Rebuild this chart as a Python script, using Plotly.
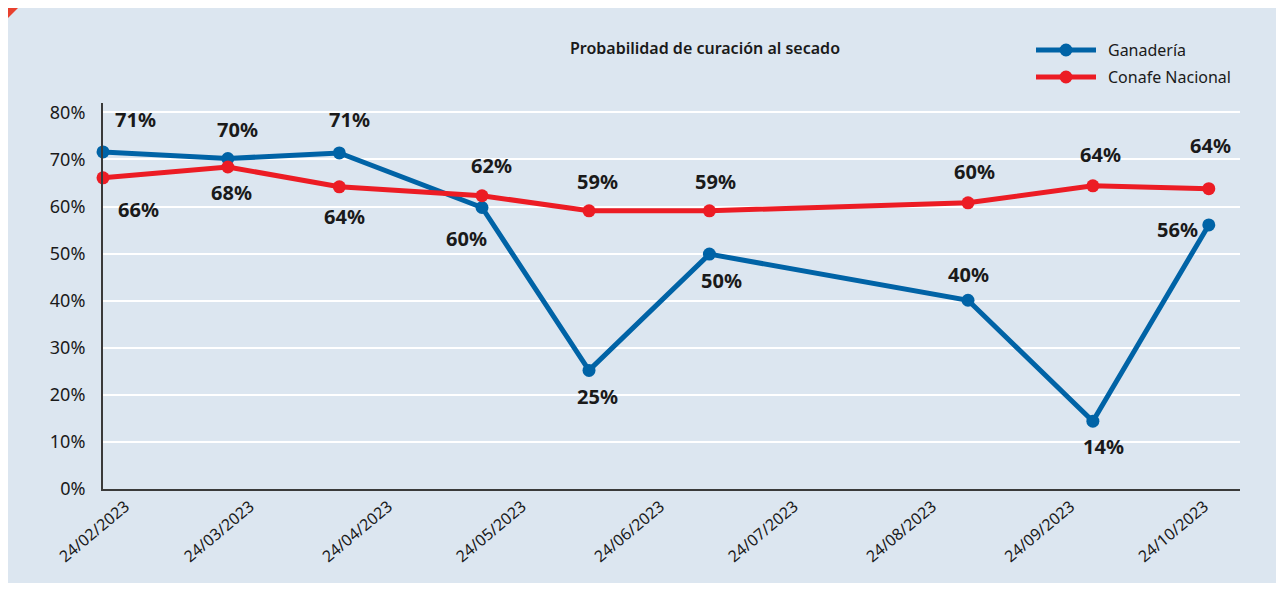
import plotly.graph_objects as go

# ---------------- data ----------------
dates = ["2023-02-19", "2023-03-19", "2023-04-13", "2023-05-15", "2023-06-08",
         "2023-07-05", "2023-09-01", "2023-09-29", "2023-10-25"]
ganaderia = [71.6, 70.2, 71.4, 59.8, 25.2, 49.9, 40.1, 14.4, 56.1]
conafe = [66.1, 68.4, 64.2, 62.3, 59.1, 59.1, 60.8, 64.4, 63.8]
ganaderia_labels = ["71%", "70%", "71%", "60%", "25%", "50%", "40%", "14%", "56%"]
conafe_labels = ["66%", "68%", "64%", "62%", "59%", "59%", "60%", "64%", "64%"]
series_names = ["Ganadería", "Conafe Nacional"]
tick_dates = ["2023-02-24", "2023-03-24", "2023-04-24", "2023-05-24", "2023-06-24",
              "2023-07-24", "2023-08-24", "2023-09-24", "2023-10-24"]
tick_labels = ["24/02/2023", "24/03/2023", "24/04/2023", "24/05/2023", "24/06/2023",
               "24/07/2023", "24/08/2023", "24/09/2023", "24/10/2023"]
y_ticks = [0, 10, 20, 30, 40, 50, 60, 70, 80]
y_tick_labels = ["0%", "10%", "20%", "30%", "40%", "50%", "60%", "70%", "80%"]
title_text = "Probabilidad de curación al secado"

# ---------------- styles ----------------
BLUE = "#0063a6"
RED = "#ec1c24"
PANEL = "#dce6f0"
TXT = "#1a1a1a"
FONT = "Noto Sans"
gan_offsets = [(32, 32), (10, 29), (10, 33), (-16, -31), (8, -26), (12, -26), (0, 26), (11, -25), (-31, -5)]
con_offsets = [(35, -32), (4, -25), (5, -30), (9, 30), (8, 29), (6, 29), (6, 31), (8, 31), (2, 43)]

OFF = 8  # page body margin
W, H = 1284 - 2 * OFF, 591 - 2 * OFF
L, T = 103 - OFF, 103 - OFF
R = W - (1240 - OFF)
B = H - (489 - OFF)
PW, PH = W - L - R, H - T - B


def px_x(p):  # reference pixel -> paper fraction
    return (p - OFF - L) / PW


def px_y(p):
    return (H - B - (p - OFF)) / PH


fig = go.Figure()
for name, vals, color in [(series_names[0], ganaderia, BLUE), (series_names[1], conafe, RED)]:
    fig.add_trace(go.Scatter(
        x=dates, y=vals, name=name, mode="lines+markers",
        line=dict(color=color, width=5),
        marker=dict(color=color, size=13),
        cliponaxis=False, showlegend=False,
    ))

annotations = []
for vals, labs, offs in [(ganaderia, ganaderia_labels, gan_offsets), (conafe, conafe_labels, con_offsets)]:
    for d, v, t, (dx, dy) in zip(dates, vals, labs, offs):
        annotations.append(dict(
            x=d, y=v, xref="x", yref="y", text=t, showarrow=False,
            xanchor="center", yanchor="middle", xshift=dx, yshift=dy,
            font=dict(family=FONT, size=20, color=TXT, weight="bold"),
        ))

# title
annotations.append(dict(
    x=px_x(705), y=px_y(48), xref="paper", yref="paper", text=title_text,
    showarrow=False, xanchor="center", yanchor="middle",
    font=dict(family=FONT, size=16, color=TXT, weight=600),
))

shapes = [
    # panel background
    dict(type="rect", xref="paper", yref="paper", x0=px_x(7), x1=px_x(1277),
         y0=px_y(583), y1=px_y(8), fillcolor=PANEL, line=dict(width=0), layer="below"),
    # red corner
    dict(type="path", xref="paper", yref="paper",
         path=f"M {px_x(7)},{px_y(8)} L {px_x(18)},{px_y(8)} L {px_x(7)},{px_y(19)} Z",
         fillcolor="#e8402e", line=dict(width=0), layer="below"),
]

# custom legend
for i, (name, color) in enumerate(zip(series_names, [BLUE, RED])):
    yy = px_y(50 + 27 * i)
    shapes.append(dict(type="line", xref="paper", yref="paper", x0=px_x(1036), x1=px_x(1096),
                       y0=yy, y1=yy, line=dict(color=color, width=5)))
    shapes.append(dict(type="circle", xref="paper", yref="paper",
                       xsizemode="pixel", ysizemode="pixel", xanchor=px_x(1066), yanchor=yy,
                       x0=-6.5, x1=6.5, y0=-6.5, y1=6.5,
                       fillcolor=color, line=dict(width=0)))
    annotations.append(dict(x=px_x(1106), y=yy, xref="paper", yref="paper", text=name,
                            showarrow=False, xanchor="left", yanchor="middle",
                            font=dict(family=FONT, size=16, color=TXT)))

fig.update_layout(
    width=W, height=H,
    margin=dict(l=L, r=R, t=T, b=B, autoexpand=False),
    paper_bgcolor="white", plot_bgcolor=PANEL,
    shapes=shapes, annotations=annotations,
    showlegend=False,
    xaxis=dict(
        type="date", range=["2023-02-19", "2023-11-01"],
        tickvals=tick_dates, ticktext=tick_labels, tickangle=-40,
        showgrid=False, zeroline=False, automargin=False,
        showline=True, linecolor="#3a3a3a", linewidth=2,
        ticks="", tickfont=dict(family=FONT, size=16, color=TXT),
    ),
    yaxis=dict(
        range=[0, 82], tickvals=y_ticks, ticktext=y_tick_labels,
        showgrid=True, gridcolor="white", gridwidth=2, automargin=False,
        zeroline=False, showline=True, linecolor="#3a3a3a", linewidth=2,
        ticks="", ticklabelstandoff=12,
        tickfont=dict(family=FONT, size=18, color=TXT),
    ),
)

fig.write_html("out.html")
